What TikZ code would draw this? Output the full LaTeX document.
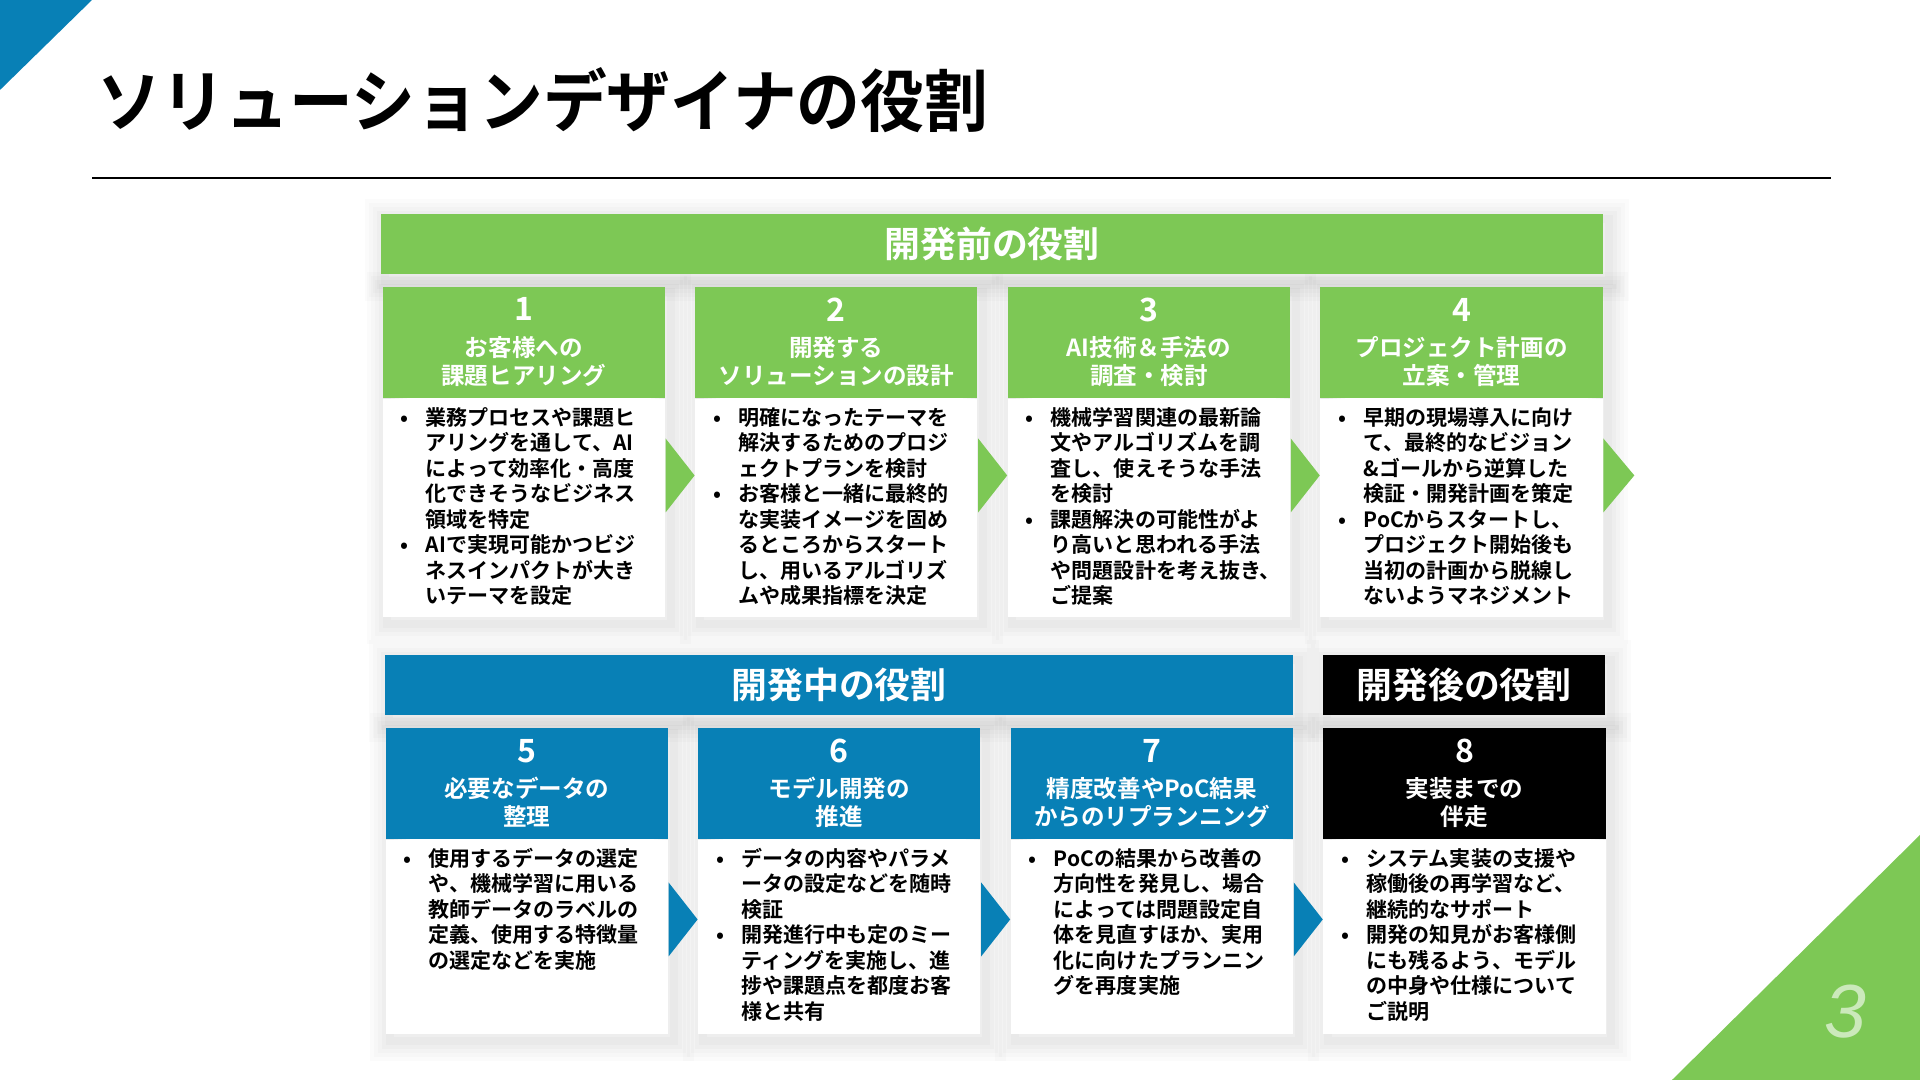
\documentclass[tikz,border=0pt]{standalone}
\usepackage{fontspec}
\setmainfont{Noto Sans CJK JP}[BoldFont={Noto Sans CJK JP Bold}]
\newfontfamily\titlefont{Noto Sans CJK JP Bold}[FakeStretch=0.94]
\newfontfamily\pagefont{Liberation Sans}
\usepackage{xcolor}
\definecolor{leafgreen}{RGB}{125,200,85}
\definecolor{seablue}{RGB}{8,128,182}
\usepackage{tikz}
\usetikzlibrary{positioning,calc,backgrounds}

\newcommand{\itemdot}{\makebox[0.25cm][l]{•}}
\newcommand{\itemgap}{\hspace*{0.25cm}}
\newcommand{\numfont}{\fontsize{9.1}{10}\selectfont}

\begin{document}
\begin{tikzpicture}[
  x=0.01cm, y=0.01cm,
  node distance=0.29cm,
  soft/.style={line join=round,
    preaction={draw=black, opacity=0.014, line width=0.40cm},
    preaction={draw=black, opacity=0.014, line width=0.32cm},
    preaction={draw=black, opacity=0.016, line width=0.24cm},
    preaction={draw=black, opacity=0.018, line width=0.16cm},
    preaction={draw=black, opacity=0.02, line width=0.08cm}},
  bar/.style={minimum height=0.6cm, inner sep=0pt, text=white, font=\fontsize{10.2}{12}\selectfont\bfseries},
  head/.style={minimum width=2.82cm, minimum height=1.11cm, inner sep=0pt, text=white, align=center, font=\fontsize{6.7}{8}\selectfont\bfseries},
  body/.style={fill=white, inner xsep=0.18cm, inner ysep=0.05cm, text width=2.46cm, text height=0.21cm, align=left, font=\fontsize{5.98}{7.25}\selectfont\bfseries}
]
\useasboundingbox (0,0) rectangle (1920,1080);

% corners and title
\fill[seablue] (0,1080) -- (92,1080) -- (0,990) -- cycle;
\fill[leafgreen] (1920,245) -- (1920,0) -- (1672,0) -- cycle;
\node[anchor=base west, inner sep=0pt, font=\titlefont\fontsize{19.3}{22}\selectfont] (title) at (97,953) {ソリューションデザイナの役割};
\draw[line width=0.018cm] (92,902) -- (1831,902);

% before development
\node[bar, fill=leafgreen, minimum width=12.21cm] (pre) at (992,836) {開発前の役割};
\node[head, fill=leafgreen, anchor=north west] (h1) at (382,794) {{\numfont 1}\\[2pt]お客様への\\課題ヒアリング};
\node[head, fill=leafgreen, right=of h1] (h2) {{\numfont 2}\\[2pt]開発する\\ソリューションの設計};
\node[head, fill=leafgreen, right=of h2] (h3) {{\numfont 3}\\[2pt]AI技術＆手法の\\調査・検討};
\node[head, fill=leafgreen, right=of h3] (h4) {{\numfont 4}\\[2pt]プロジェクト計画の\\立案・管理};

\node[body, text depth=1.87cm, below=0pt of h1] (b1) {\itemdot 業務プロセスや課題ヒ\\
\itemgap アリングを通して、AI\\
\itemgap によって効率化・高度\\
\itemgap 化できそうなビジネス\\
\itemgap 領域を特定\\
\itemdot AIで実現可能かつビジ\\
\itemgap ネスインパクトが大き\\
\itemgap いテーマを設定};
\node[body, text depth=1.87cm, below=0pt of h2] (b2) {\itemdot 明確になったテーマを\\
\itemgap 解決するためのプロジ\\
\itemgap ェクトプランを検討\\
\itemdot お客様と一緒に最終的\\
\itemgap な実装イメージを固め\\
\itemgap るところからスタート\\
\itemgap し、用いるアルゴリズ\\
\itemgap ムや成果指標を決定};
\node[body, text depth=1.87cm, below=0pt of h3] (b3) {\itemdot 機械学習関連の最新論\\
\itemgap 文やアルゴリズムを調\\
\itemgap 査し、使えそうな手法\\
\itemgap を検討\\
\itemdot 課題解決の可能性がよ\\
\itemgap り高いと思われる手法\\
\itemgap や問題設計を考え抜き、\\
\itemgap ご提案};
\node[body, text depth=1.87cm, below=0pt of h4] (b4) {\itemdot 早期の現場導入に向け\\
\itemgap て、最終的なビジョン\\
\itemgap \&ゴールから逆算した\\
\itemgap 検証・開発計画を策定\\
\itemdot PoCからスタートし、\\
\itemgap プロジェクト開始後も\\
\itemgap 当初の計画から脱線し\\
\itemgap ないようマネジメント};

\foreach \a/\b in {1/2,2/3,3/4}
  \fill[leafgreen] ($(b\a.north east)+(0,-40)$) -- ($(b\b.north west)+(0,-77)$) -- ($(b\a.north east)+(0,-114)$) -- cycle;
\fill[leafgreen] ($(b4.north east)+(0,-40)$) -- ($(b4.north east)+(31,-77)$) -- ($(b4.north east)+(0,-114)$) -- cycle;

% during and after development
\node[bar, fill=seablue, minimum width=9.08cm] (mid) at (839,395) {開発中の役割};
\node[bar, fill=black, minimum width=2.82cm] (post) at (1464,395) {開発後の役割};
\node[head, fill=seablue, anchor=north west] (h5) at (385,353) {{\numfont 5}\\[2pt]必要なデータの\\整理};
\node[head, fill=seablue, right=of h5] (h6) {{\numfont 6}\\[2pt]モデル開発の\\推進};
\node[head, fill=seablue, right=of h6] (h7) {{\numfont 7}\\[2pt]精度改善やPoC結果\\からのリプランニング};
\node[head, fill=black, right=of h7] (h8) {{\numfont 8}\\[2pt]実装までの\\伴走};

\node[body, text depth=1.63cm, below=0pt of h5] (b5) {\itemdot 使用するデータの選定\\
\itemgap や、機械学習に用いる\\
\itemgap 教師データのラベルの\\
\itemgap 定義、使用する特徴量\\
\itemgap の選定などを実施};
\node[body, text depth=1.63cm, below=0pt of h6] (b6) {\itemdot データの内容やパラメ\\
\itemgap ータの設定などを随時\\
\itemgap 検証\\
\itemdot 開発進行中も定のミー\\
\itemgap ティングを実施し、進\\
\itemgap 捗や課題点を都度お客\\
\itemgap 様と共有};
\node[body, text depth=1.63cm, below=0pt of h7] (b7) {\itemdot PoCの結果から改善の\\
\itemgap 方向性を発見し、場合\\
\itemgap によっては問題設定自\\
\itemgap 体を見直すほか、実用\\
\itemgap 化に向けたプランニン\\
\itemgap グを再度実施};
\node[body, text depth=1.63cm, below=0pt of h8] (b8) {\itemdot システム実装の支援や\\
\itemgap 稼働後の再学習など、\\
\itemgap 継続的なサポート\\
\itemdot 開発の知見がお客様側\\
\itemgap にも残るよう、モデル\\
\itemgap の中身や仕様について\\
\itemgap ご説明};

\foreach \a/\b in {5/6,6/7,7/8}
  \fill[seablue] ($(b\a.north east)+(0,-43)$) -- ($(b\b.north west)+(0,-80)$) -- ($(b\a.north east)+(0,-117)$) -- cycle;

\node[text=white, opacity=0.6, inner sep=0pt, font=\pagefont\itshape\fontsize{21.4}{24}\selectfont] (pagenum) at (1845,68) {3};

% soft shadows behind the boxes
\begin{scope}[on background layer]
  \fill[white] (0,0) rectangle (1920,1080);
  \foreach \n in {pre,mid,post}
    \path[soft] ($(\n.south west)+(5,-6)$) rectangle ($(\n.north east)+(5,-6)$);
  \foreach \n in {1,...,8}
    \path[soft] ($(h\n.north west)+(5,-6)$) rectangle ($(b\n.south east)+(5,-6)$);
\end{scope}
\end{tikzpicture}
\end{document}
